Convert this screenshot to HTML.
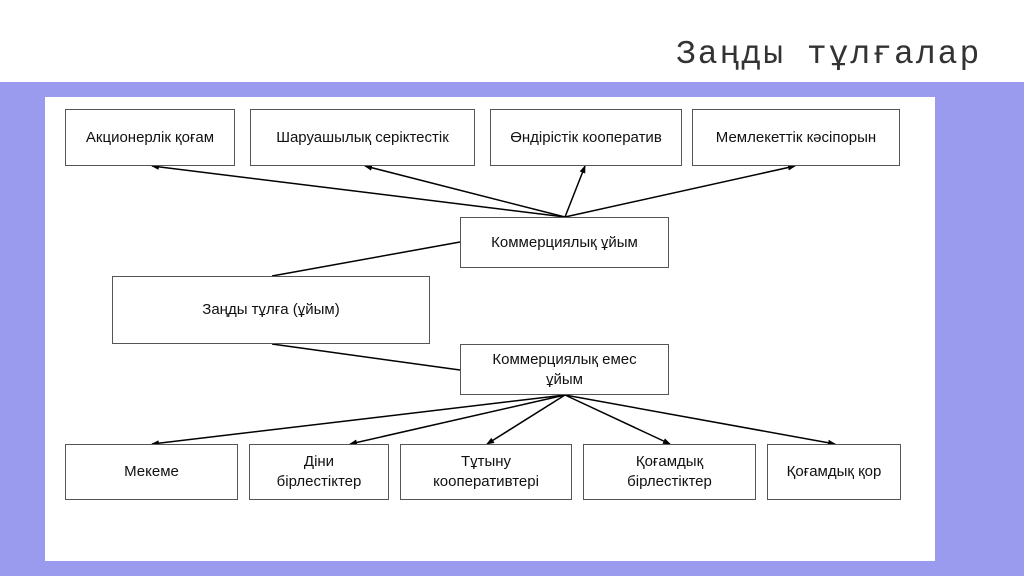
<!DOCTYPE html>
<html><head><meta charset="utf-8"><style>
body{margin:0;width:1024px;height:576px;background:#fff;position:relative;overflow:hidden;font-family:"Liberation Sans",sans-serif}
.title{position:absolute;left:676px;top:36px;font-family:"Liberation Mono","DejaVu Sans Mono",monospace;font-size:33px;color:#333;white-space:nowrap;letter-spacing:2px}
.band{position:absolute;left:0;top:82px;width:1024px;height:494px;background:#9a9aee}
.panel{position:absolute;left:45px;top:97px;width:890px;height:464px;background:#fff}
.b{position:absolute;border:1px solid #555;background:#fff;display:flex;align-items:center;justify-content:center;text-align:center;font-size:15px;color:#111;line-height:20px;box-sizing:border-box}
svg{position:absolute;left:0;top:0}
</style></head><body>
<div class="title">Заңды тұлғалар</div>
<div class="band"></div>
<div class="panel"></div>
<svg width="1024" height="576">
<defs><marker id="a" markerWidth="8" markerHeight="8" refX="7" refY="4" orient="auto" markerUnits="userSpaceOnUse"><path d="M0,1 L8,4 L0,7z" fill="#000"/></marker></defs>
<g stroke="#000" stroke-width="1.5" fill="none">
<line x1="565" y1="217" x2="152" y2="166" marker-end="url(#a)"/>
<line x1="565" y1="217" x2="365" y2="166" marker-end="url(#a)"/>
<line x1="565" y1="217" x2="585" y2="166" marker-end="url(#a)"/>
<line x1="565" y1="217" x2="795" y2="166" marker-end="url(#a)"/>
<line x1="460" y1="242" x2="272" y2="276"/>
<line x1="272" y1="344" x2="460" y2="370"/>
<line x1="565" y1="395" x2="152" y2="444" marker-end="url(#a)"/>
<line x1="565" y1="395" x2="350" y2="444" marker-end="url(#a)"/>
<line x1="565" y1="395" x2="487" y2="444" marker-end="url(#a)"/>
<line x1="565" y1="395" x2="670" y2="444" marker-end="url(#a)"/>
<line x1="565" y1="395" x2="835" y2="444" marker-end="url(#a)"/>
</g></svg>
<div class="b" style="left:65px;top:109px;width:170px;height:57px">Акционерлік қоғам</div>
<div class="b" style="left:250px;top:109px;width:225px;height:57px">Шаруашылық серіктестік</div>
<div class="b" style="left:490px;top:109px;width:192px;height:57px">Өндірістік кооператив</div>
<div class="b" style="left:692px;top:109px;width:208px;height:57px">Мемлекеттік кәсіпорын</div>
<div class="b" style="left:460px;top:217px;width:209px;height:51px">Коммерциялық ұйым</div>
<div class="b" style="left:112px;top:276px;width:318px;height:68px">Заңды тұлға (ұйым)</div>
<div class="b" style="left:460px;top:344px;width:209px;height:51px">Коммерциялық емес<br>ұйым</div>
<div class="b" style="left:65px;top:444px;width:173px;height:56px">Мекеме</div>
<div class="b" style="left:249px;top:444px;width:140px;height:56px">Діни<br>бірлестіктер</div>
<div class="b" style="left:400px;top:444px;width:172px;height:56px">Тұтыну<br>кооперативтері</div>
<div class="b" style="left:583px;top:444px;width:173px;height:56px">Қоғамдық<br>бірлестіктер</div>
<div class="b" style="left:767px;top:444px;width:134px;height:56px">Қоғамдық қор</div>
</body></html>
